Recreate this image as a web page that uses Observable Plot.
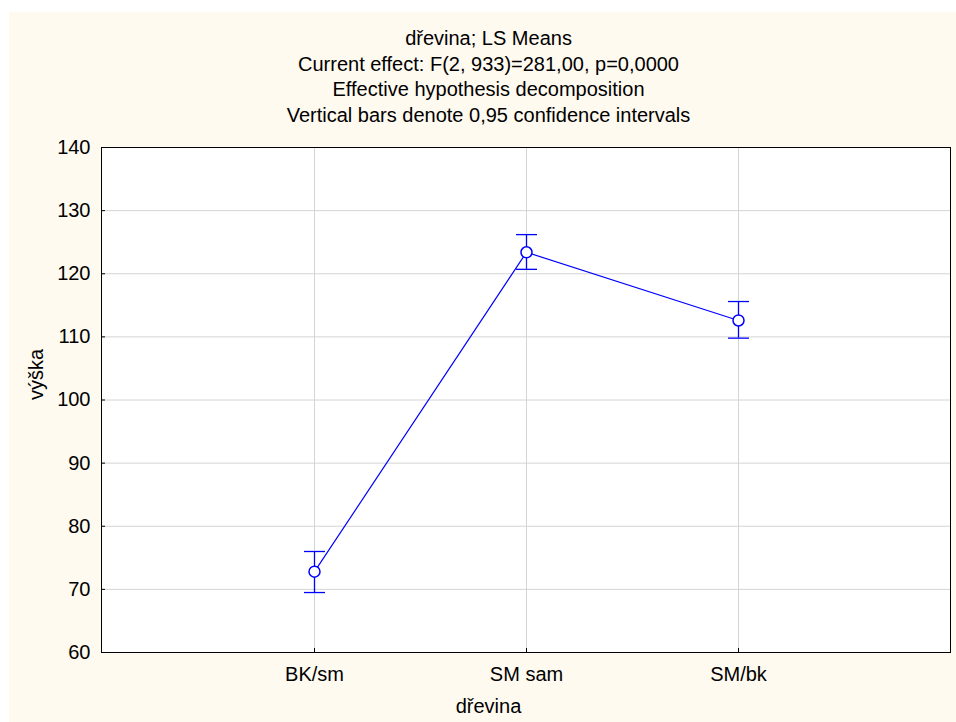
<!DOCTYPE html>
<html><head><meta charset="utf-8">
<script src="https://cdn.jsdelivr.net/npm/d3@7"></script>
<script src="https://cdn.jsdelivr.net/npm/@observablehq/plot@0.6"></script>
<style>
html,body{margin:0;padding:0;background:#fff;}
#chart{position:absolute;left:9px;top:12px;}
</style></head><body><div id="chart"></div>
<script>
const categories = ["BK/sm", "SM sam", "SM/bk"];
const means = [72.8, 123.4, 112.6];
const lower = [69.5, 120.7, 109.8];
const upper = [76.0, 126.2, 115.6];
const yTicks = [60, 70, 80, 90, 100, 110, 120, 130, 140];
const titleLines = [
  "dřevina; LS Means",
  "Current effect: F(2, 933)=281,00, p=0,0000",
  "Effective hypothesis decomposition",
  "Vertical bars denote 0,95 confidence intervals"
];
const xLabel = "dřevina";
const yLabel = "výška";

const data = categories.map((c, i) => ({c, m: means[i], lo: lower[i], hi: upper[i]}));
const blue = "#0000ff";
const grid = "#d4d4d4";
const capSymbol = {draw(context) { context.moveTo(-10.5, 0); context.lineTo(10.5, 0); }};

const plot = Plot.plot({
  width: 947, height: 710,
  marginLeft: 92, marginTop: 135, marginRight: 6, marginBottom: 70,
  style: {background: "#fffaf0", fontFamily: "'Liberation Sans', Arial, sans-serif", fontSize: "20px", color: "black"},
  x: {type: "point", domain: categories, padding: 1, label: null},
  y: {domain: [60, 140], label: null},
  marks: [
    Plot.frame({fill: "white", stroke: null}),
    Plot.gridX({stroke: grid, strokeOpacity: 1}),
    Plot.gridY(yTicks, {stroke: grid, strokeOpacity: 1}),
    Plot.axisX({tickSize: -4, tickPadding: 18, fontSize: 20, label: null}),
    Plot.axisY(yTicks, {tickSize: -4, tickPadding: 15, fontSize: 20, label: null}),
    Plot.ruleX(data, {x: "c", y1: "lo", y2: "hi", stroke: blue, strokeWidth: 1.3}),
    Plot.dot(data, {x: "c", y: "lo", symbol: capSymbol, stroke: blue, fill: "none", strokeWidth: 1.3}),
    Plot.dot(data, {x: "c", y: "hi", symbol: capSymbol, stroke: blue, fill: "none", strokeWidth: 1.3}),
    Plot.line(data, {x: "c", y: "m", stroke: blue, strokeWidth: 1.2}),
    Plot.dot(data, {x: "c", y: "m", r: 5.5, stroke: blue, fill: "white", strokeWidth: 1.5}),
    Plot.frame({stroke: "black", strokeWidth: 1}),
    Plot.text([titleLines.join("\n")], {text: d => d, frameAnchor: "top", lineAnchor: "top", lineHeight: 1.275, fontSize: 20, dx: -37.5, dy: -120.5}),
    Plot.text([xLabel], {text: d => d, frameAnchor: "bottom", lineAnchor: "bottom", fontSize: 20, dx: -37.5, dy: 60}),
    Plot.text([yLabel], {text: d => d, frameAnchor: "left", rotate: -90, lineAnchor: "bottom", fontSize: 20, dx: -59})
  ]
});
document.getElementById("chart").appendChild(plot);
</script>
</body></html>
